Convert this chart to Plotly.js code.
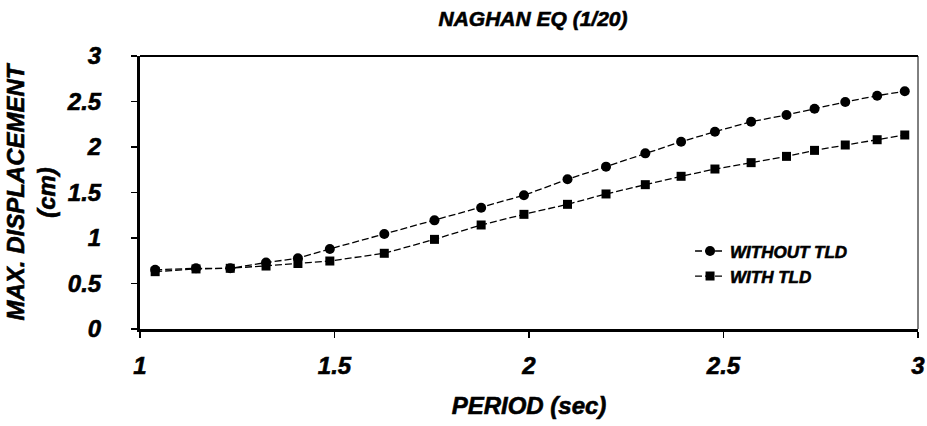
<!DOCTYPE html>
<html>
<head>
<meta charset="utf-8">
<script src="https://cdn.plot.ly/plotly-3.0.1.min.js"></script>
<style>
html,body{margin:0;padding:0;background:#fff;}
#chart{width:927px;height:426px;}
#chart text{stroke:#000;stroke-width:0.6px;paint-order:stroke;}
</style>
</head>
<body>
<div id="chart"></div>
<script>
const period = [1.039, 1.144, 1.232, 1.324, 1.406, 1.488, 1.628, 1.757, 1.877, 1.987, 2.099, 2.198, 2.299, 2.391, 2.478, 2.571, 2.662, 2.734, 2.813, 2.895, 2.966];
const withoutTLD = [0.65, 0.667, 0.667, 0.73, 0.777, 0.88, 1.044, 1.194, 1.333, 1.469, 1.645, 1.784, 1.93, 2.058, 2.168, 2.278, 2.352, 2.42, 2.495, 2.564, 2.612];
const withTLD = [0.63, 0.66, 0.667, 0.692, 0.72, 0.747, 0.832, 0.985, 1.143, 1.26, 1.37, 1.484, 1.586, 1.678, 1.758, 1.828, 1.897, 1.963, 2.022, 2.08, 2.132];
const seriesNames = ["WITHOUT TLD", "WITH TLD"];
const xTicks = [1, 1.5, 2, 2.5, 3];
const yTicks = [0, 0.5, 1, 1.5, 2, 2.5, 3];

const fontFam = "Liberation Sans, Arial, sans-serif";
const bi = {family: fontFam, weight: "bold", style: "italic", color: "#000"};

const traces = [
  {x: period, y: withoutTLD, name: seriesNames[0], mode: "lines+markers",
   line: {color: "#000", width: 1.3, dash: "7px,3px"},
   marker: {symbol: "circle", size: 10, color: "#000"}},
  {x: period, y: withTLD, name: seriesNames[1], mode: "lines+markers",
   line: {color: "#000", width: 1.3, dash: "7px,3px"},
   marker: {symbol: "square", size: 9, color: "#000"}}
];

const layout = {
  width: 927, height: 426,
  margin: {l: 140, r: 9, t: 56, b: 97},
  paper_bgcolor: "#fff", plot_bgcolor: "#fff",
  showlegend: true,
  title: {text: "NAGHAN EQ (1/20)", x: 0.575, xanchor: "center", y: 0.957, yanchor: "middle",
          font: Object.assign({}, bi, {size: 21})},
  xaxis: {
    range: [1, 3], tickvals: xTicks, ticktext: xTicks.map(String),
    showgrid: false, zeroline: false,
    showline: true, linecolor: "#000", linewidth: 3,
    ticks: "outside", ticklen: 6, tickcolor: "#000", tickwidth: 1.5,
    ticklabelstandoff: 7,
    tickfont: Object.assign({}, bi, {size: 24}),
    title: {text: "PERIOD (sec)", font: Object.assign({}, bi, {size: 24}), standoff: 20}
  },
  yaxis: {
    range: [0, 3], tickvals: yTicks, ticktext: yTicks.map(String),
    showgrid: false, zeroline: false,
    showline: true, linecolor: "#000", linewidth: 3,
    ticks: "outside", ticklen: 6, tickcolor: "#000", tickwidth: 1.5,
    ticklabelstandoff: 25,
    tickfont: Object.assign({}, bi, {size: 24}),
    title: {text: "MAX. DISPLACEMENT<br>(cm)", font: Object.assign({}, bi, {size: 24}), standoff: 5}
  },
  shapes: [
    {type: "line", xref: "paper", yref: "paper", x0: 0, x1: 1, y0: 1, y1: 1, line: {color: "#000", width: 2}},
    {type: "line", xref: "paper", yref: "paper", x0: 1, x1: 1, y0: 0, y1: 1, line: {color: "#000", width: 1}}
  ],
  legend: {x: 0.707, y: 0.35, xanchor: "left", yanchor: "top", bgcolor: "rgba(0,0,0,0)",
           font: Object.assign({}, bi, {size: 17}), itemwidth: 30, tracegroupgap: 0}
};

Plotly.newPlot("chart", traces, layout, {displayModeBar: false, staticPlot: true});
</script>
</body>
</html>
